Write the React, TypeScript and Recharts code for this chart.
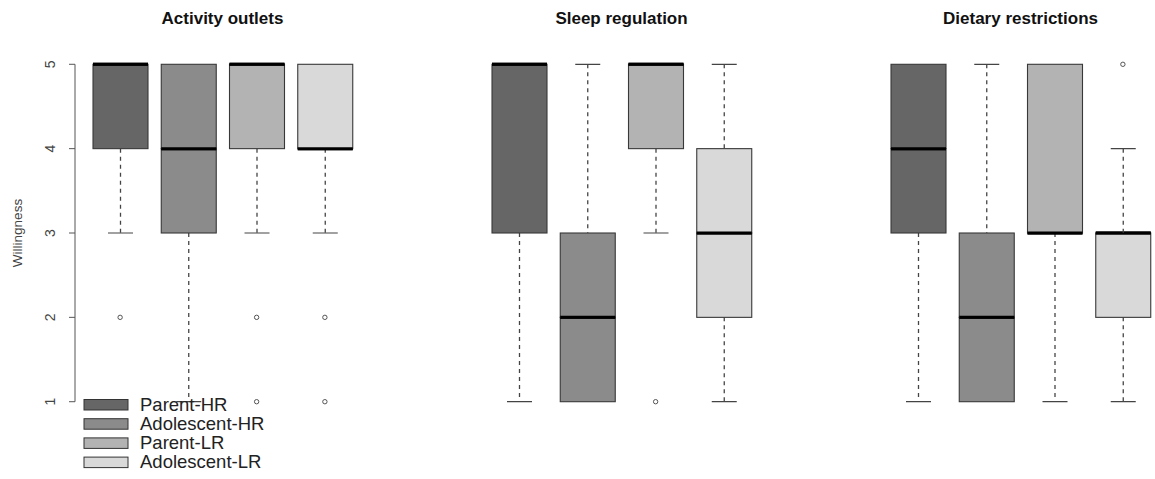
import { ComposedChart, Bar, Scatter, XAxis, YAxis, ReferenceLine } from "recharts";

const groups = ["Parent-HR", "Adolescent-HR", "Parent-LR", "Adolescent-LR"];
const groupFills = ["#666666", "#8b8b8b", "#b3b3b3", "#d9d9d9"];
const yTicks = [1, 2, 3, 4, 5];

// one entry per group: lower whisker, Q1, median, Q3, upper whisker, outliers
const activityLow = [3, 1, 3, 3];
const activityQ1 = [4, 3, 4, 4];
const activityMedian = [5, 4, 5, 4];
const activityQ3 = [5, 5, 5, 5];
const activityHigh = [5, 5, 5, 5];
const activityOutliers = [[2], [], [2, 1], [2, 1]];

const sleepLow = [1, 1, 3, 1];
const sleepQ1 = [3, 1, 4, 2];
const sleepMedian = [5, 2, 5, 3];
const sleepQ3 = [5, 3, 5, 4];
const sleepHigh = [5, 5, 5, 5];
const sleepOutliers = [[], [], [1], []];

const dietLow = [1, 1, 1, 1];
const dietQ1 = [3, 1, 3, 2];
const dietMedian = [4, 2, 3, 3];
const dietQ3 = [5, 3, 5, 3];
const dietHigh = [5, 5, 5, 4];
const dietOutliers = [[], [], [], [5]];

const FONT = '"Liberation Sans", Arial, Helvetica, sans-serif';
const PANEL_W = 399;
const CHART_H = 479;
const PLOT_LEFT = 75;
const PLOT_W = 295;
const AXIS_W = 70;

function buildRows(low: number[], q1: number[], med: number[], q3: number[], high: number[]) {
  return groups.map((name, i) => ({
    name,
    base: low[i],
    lowWhisker: q1[i] - low[i],
    boxLower: med[i] - q1[i],
    boxUpper: q3[i] - med[i],
    highWhisker: high[i] - q3[i],
  }));
}

function buildOutliers(out: number[][]) {
  return out.flatMap((vals, i) => vals.map((v) => ({ name: groups[i], v })));
}

const panels = [
  {
    title: "Activity outlets",
    rows: buildRows(activityLow, activityQ1, activityMedian, activityQ3, activityHigh),
    outliers: buildOutliers(activityOutliers),
  },
  {
    title: "Sleep regulation",
    rows: buildRows(sleepLow, sleepQ1, sleepMedian, sleepQ3, sleepHigh),
    outliers: buildOutliers(sleepOutliers),
  },
  {
    title: "Dietary restrictions",
    rows: buildRows(dietLow, dietQ1, dietMedian, dietQ3, dietHigh),
    outliers: buildOutliers(dietOutliers),
  },
];

const groupIndex = (props: any) => {
  const i = groups.indexOf(props?.payload?.name);
  return i >= 0 ? i : props.index ?? 0;
};

const whiskerShape = (capAt: "top" | "bottom") => (props: any) => {
  const { x, y, width, height } = props;
  if (!height || height < 0.5) return <g />;
  const cx = x + width / 2;
  const capY = capAt === "top" ? y : y + height;
  return (
    <g>
      <line x1={cx} x2={cx} y1={y} y2={y + height} stroke="#444" strokeWidth={1.3} strokeDasharray="4 4" />
      <line x1={cx - 12.5} x2={cx + 12.5} y1={capY} y2={capY} stroke="#444" strokeWidth={1.2} />
    </g>
  );
};

const boxShape = (medianAt: "top" | "bottom") => (props: any) => {
  const { x, y, width, height } = props;
  const my = medianAt === "top" ? y : y + height;
  return (
    <g>
      {height > 0.5 && (
        <rect x={x} y={y} width={width} height={height} fill={groupFills[groupIndex(props)]} stroke="#383838" strokeWidth={1.1} />
      )}
      <line x1={x} x2={x + width} y1={my} y2={my} stroke="#000" strokeWidth={3} />
    </g>
  );
};

const outlierShape = (props: any) => (
  <circle cx={props.cx} cy={props.cy} r={2.2} fill="none" stroke="#555" strokeWidth={1} />
);

const YTick = ({ x, y, payload }: any) => (
  <text
    x={x}
    y={y}
    transform={`rotate(-90, ${x}, ${y})`}
    textAnchor="middle"
    fontSize={14}
    fill="#444"
    fontFamily={FONT}
  >
    {payload.value}
  </text>
);

const AxisTitle = ({ viewBox }: any) => {
  const vx = (viewBox?.x ?? 5) + 17;
  const vy = (viewBox?.y ?? 50.8) + (viewBox?.height ?? 364.4) / 2;
  return (
    <text x={vx} y={vy} transform={`rotate(-90, ${vx}, ${vy})`} textAnchor="middle" fontSize={13.5} fill="#444" fontFamily={FONT}>
      Willingness
    </text>
  );
};

function Panel({ panel, k }: { panel: (typeof panels)[number]; k: number }) {
  const showAxis = k === 0;
  return (
    <div style={{ position: "absolute", left: k * PANEL_W, top: 0, width: PANEL_W, height: CHART_H }}>
      <div
        style={{
          position: "absolute",
          left: PLOT_LEFT,
          width: PLOT_W,
          top: 8.6,
          lineHeight: "19px",
          fontSize: 17,
          fontWeight: "bold",
          textAlign: "center",
          color: "#111",
          fontFamily: FONT,
        }}
      >
        {panel.title}
      </div>
      <ComposedChart
        width={PANEL_W}
        height={CHART_H}
        data={panel.rows}
        margin={{ top: 50.8, right: PANEL_W - PLOT_LEFT - PLOT_W, bottom: 63.8, left: showAxis ? PLOT_LEFT - AXIS_W : PLOT_LEFT }}
      >
        <XAxis
          dataKey="name"
          type="category"
          hide
          allowDuplicatedCategory={false}
          padding={{ left: 11, right: 11 }}
        />
        <XAxis xAxisId="frame" type="number" domain={[0, 1]} hide />
        <YAxis
          type="number"
          domain={[0.84, 5.16]}
          allowDataOverflow
          ticks={yTicks}
          hide={!showAxis}
          width={AXIS_W}
          axisLine={false}
          tickLine={{ stroke: "#555" }}
          tickSize={6}
          tickMargin={14}
          tick={<YTick />}
          label={<AxisTitle />}
        />
        {showAxis && (
          <ReferenceLine
            xAxisId="frame"
            segment={[
              { x: 0, y: 1 },
              { x: 0, y: 5 },
            ]}
            stroke="#555"
            strokeWidth={1}
          />
        )}
        <Bar dataKey="base" stackId="box" barSize={55} shape={() => <g />} isAnimationActive={false} />
        <Bar dataKey="lowWhisker" stackId="box" barSize={55} shape={whiskerShape("bottom")} isAnimationActive={false} />
        <Bar dataKey="boxLower" stackId="box" barSize={55} shape={boxShape("top")} isAnimationActive={false} />
        <Bar dataKey="boxUpper" stackId="box" barSize={55} shape={boxShape("bottom")} isAnimationActive={false} />
        <Bar dataKey="highWhisker" stackId="box" barSize={55} shape={whiskerShape("top")} isAnimationActive={false} />
        <Scatter data={panel.outliers} dataKey="v" shape={outlierShape} isAnimationActive={false} />
      </ComposedChart>
    </div>
  );
}

export default function App() {
  return (
    <div
      style={{
        position: "absolute",
        left: 0,
        top: 0,
        width: 1155,
        height: 479,
        overflow: "hidden",
        background: "#fff",
        fontFamily: FONT,
      }}
    >
      {panels.map((p, k) => (
        <Panel key={p.title} panel={p} k={k} />
      ))}
      <svg width={1155} height={479} style={{ position: "absolute", left: 0, top: 0, pointerEvents: "none" }}>
        {groups.map((g, i) => (
          <g key={g}>
            <rect x={84} y={399.5 + i * 19.2} width={44} height={10.5} fill={groupFills[i]} stroke="#333" strokeWidth={1} />
            <text x={140} y={410.8 + i * 19.2} fontSize={18.5} fill="#222" fontFamily={FONT}>
              {g}
            </text>
          </g>
        ))}
      </svg>
    </div>
  );
}
